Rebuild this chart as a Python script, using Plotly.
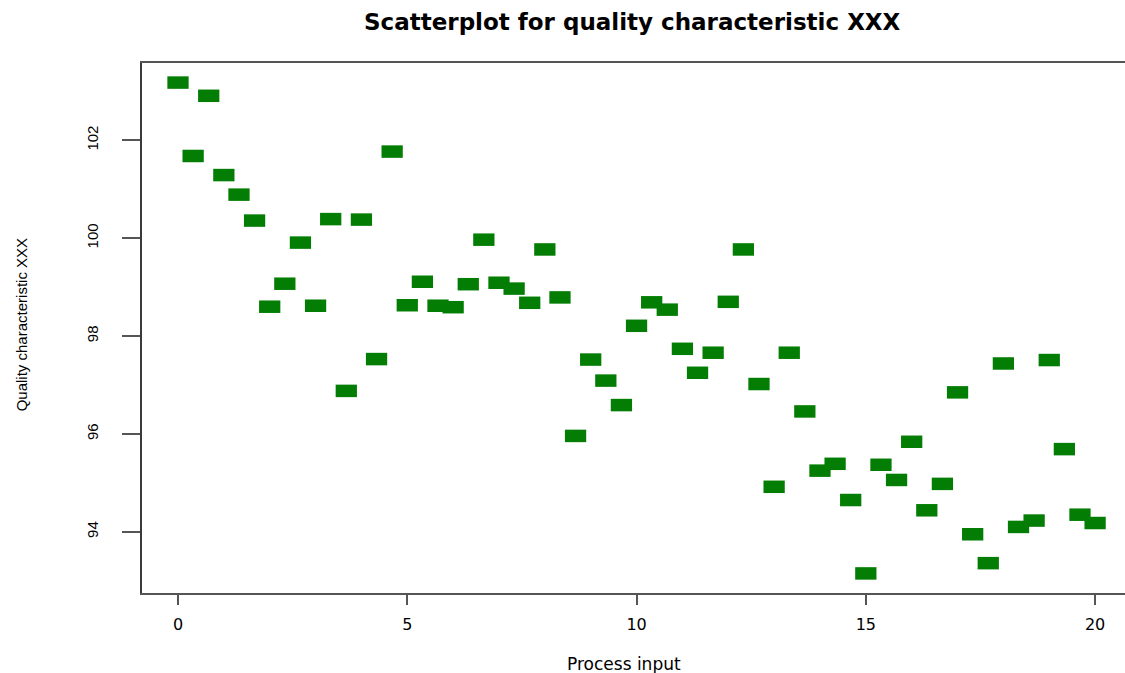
import plotly.graph_objects as go

# Process input values (x) and quality characteristic values (y)
process_input = [
    0.00, 0.33, 0.67, 1.00, 1.33, 1.67, 2.00, 2.33, 2.67, 3.00,
    3.33, 3.67, 4.00, 4.33, 4.67, 5.00, 5.33, 5.67, 6.00, 6.33,
    6.67, 7.00, 7.33, 7.67, 8.00, 8.33, 8.67, 9.00, 9.33, 9.67,
    10.00, 10.33, 10.67, 11.00, 11.33, 11.67, 12.00, 12.33, 12.67, 13.00,
    13.33, 13.67, 14.00, 14.33, 14.67, 15.00, 15.33, 15.67, 16.00, 16.33,
    16.67, 17.00, 17.33, 17.67, 18.00, 18.33, 18.67, 19.00, 19.33, 19.67,
    20.00,
]
quality = [
    103.18, 101.68, 102.91, 101.29, 100.89, 100.36, 98.60, 99.07, 99.91, 98.62,
    100.39, 96.88, 100.38, 97.53, 101.77, 98.63, 99.11, 98.62, 98.59, 99.06,
    99.97, 99.09, 98.97, 98.68, 99.77, 98.79, 95.96, 97.52, 97.09, 96.59,
    98.21, 98.69, 98.54, 97.74, 97.25, 97.66, 98.70, 99.77, 97.02, 94.92,
    97.66, 96.46, 95.25, 95.39, 94.65, 93.15, 95.37, 95.06, 95.84, 94.44,
    94.98, 96.85, 93.95, 93.36, 97.44, 94.10, 94.23, 97.51, 95.69, 94.35,
    94.18,
]
x_ticks = [0, 5, 10, 15, 20]
y_ticks = [94, 96, 98, 100, 102]

W, H = 1125, 673
L, T, B, R = 141.7, 63.3, 673 - 592.7, 0
GREEN = "#037D03"
AXIS = "#555555"

fig = go.Figure()
fig.add_trace(go.Scatter(
    x=process_input, y=quality, mode="markers",
    marker=dict(symbol="line-ew", size=15.2, color=GREEN,
                line=dict(color=GREEN, width=12.5)),
    hoverinfo="x+y", showlegend=False,
))

fig.update_layout(
    width=W, height=H,
    margin=dict(l=L, r=R, t=T, b=B, pad=0),
    paper_bgcolor="white", plot_bgcolor="white",
    font=dict(family="DejaVu Sans, Liberation Sans, Arial", color="black"),
    xaxis=dict(
        range=[-0.785, 20.652], tickvals=x_ticks, ticktext=[str(v) for v in x_ticks],
        showgrid=False, zeroline=False, showline=True, linecolor=AXIS, linewidth=2,
        mirror=True, ticks="outside", ticklen=10, tickwidth=2, tickcolor=AXIS,
        tickfont=dict(size=16, family="DejaVu Sans"), ticklabelstandoff=6,
    ),
    yaxis=dict(
        range=[92.75, 103.58], tickvals=y_ticks, ticktext=[str(v) for v in y_ticks],
        showgrid=False, zeroline=False, showline=True, linecolor="#3a3a3a", linewidth=2,
        ticks="outside", ticklen=18, tickwidth=2, tickcolor=AXIS, tickangle=-90,
        tickfont=dict(size=15, family="Liberation Sans"), ticklabelstandoff=18,
    ),
)

pw = W - L - R
ph = H - T - B


def px_to_paper_x(px):
    return (px - L) / pw


def py_to_paper_y(py):
    return (H - B - py) / ph


fig.add_annotation(
    text="<b>Scatterplot for quality characteristic XXX</b>",
    xref="paper", yref="paper", x=px_to_paper_x(632), y=py_to_paper_y(22),
    xanchor="center", yanchor="middle", showarrow=False,
    font=dict(size=23, family="DejaVu Sans", color="black"),
)
fig.add_annotation(
    text="Process input",
    xref="paper", yref="paper", x=px_to_paper_x(624), y=py_to_paper_y(664),
    xanchor="center", yanchor="middle", showarrow=False,
    font=dict(size=17, family="DejaVu Sans", color="black"),
)
fig.add_annotation(
    text="Quality characteristic XXX",
    xref="paper", yref="paper", x=px_to_paper_x(22), y=py_to_paper_y(325),
    xanchor="center", yanchor="middle", showarrow=False, textangle=-90,
    font=dict(size=15, family="Liberation Sans", color="black"),
)

# Remove the browser's default 8px body margin so the figure fills the window exactly.
fig.write_html(
    "out.html",
    config={"displayModeBar": False},
    post_script="document.body.style.margin='0';document.body.style.overflow='hidden';",
)
